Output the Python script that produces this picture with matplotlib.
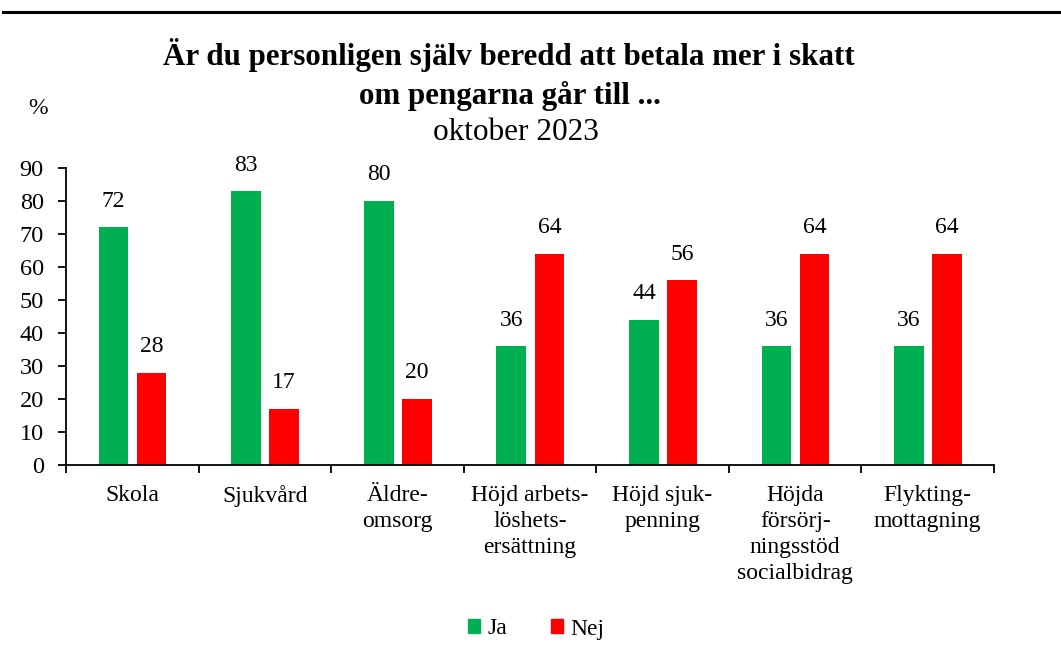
import matplotlib
matplotlib.use("Agg")
import matplotlib.pyplot as plt
import numpy as np
from matplotlib.patches import Patch
from matplotlib.lines import Line2D

categories = ["Skola", "Sjukvård", "Äldre-\nomsorg", "Höjd arbets-\nlöshets-\nersättning",
              "Höjd sjuk-\npenning", "Höjda\nförsörj-\nningsstöd\nsocialbidrag", "Flykting-\nmottagning"]
ja = [72, 83, 80, 36, 44, 36, 36]
nej = [28, 17, 20, 64, 56, 64, 64]
yticks = [0, 10, 20, 30, 40, 50, 60, 70, 80, 90]

plt.rcParams['font.family'] = ['Liberation Serif', 'DejaVu Serif']
GREEN = '#00B050'
RED = '#FF0000'
FS = 17

fig = plt.figure(figsize=(10.61, 6.60), dpi=100)
ax = fig.add_axes([66/1061, 1-465/660, (994-66)/1061, (465-168)/660])

x = np.arange(len(categories))
w = 0.224
off_ja, off_nej = -0.141, 0.146
ax.bar(x + off_ja, ja, width=w, color=GREEN, label='Ja')
ax.bar(x + off_nej, nej, width=w, color=RED, label='Nej')

for xi, v in zip(x, ja):
    ax.text(xi + off_ja, v + 7.9, f"{v}", ha='center', va='center', fontsize=FS)
for xi, v in zip(x, nej):
    ax.text(xi + off_nej, v + 7.9, f"{v}", ha='center', va='center', fontsize=FS)

ax.set_xlim(-0.5, len(categories) - 0.5)
ax.set_ylim(0, 90)
ax.set_yticks(yticks)
ax.set_yticklabels([str(t) for t in yticks], fontsize=FS + 0.5)
ax.set_xticks(np.arange(len(categories) + 1) - 0.5)
ax.set_xticklabels([])
ax.tick_params(axis='x', length=6, width=1.3, direction='out')
ax.tick_params(axis='y', length=6, width=1.3, direction='out', pad=10)
for xi, c in zip(x, categories):
    ax.text(xi, -6.2, c, ha='center', va='top', fontsize=FS, linespacing=1.3)

for s in ['top', 'right']:
    ax.spines[s].set_visible(False)
ax.spines['left'].set_linewidth(1.3)
ax.spines['bottom'].set_linewidth(1.3)

fig.text(509/1061, 1-55/660, "Är du personligen själv beredd att betala mer i skatt",
         ha='center', va='center', fontsize=22.3, fontweight='bold')
fig.text(510/1061, 1-96/660, "om pengarna går till ...",
         ha='center', va='center', fontsize=22.3, fontweight='bold')
fig.text(516/1061, 1-133/660, "oktober 2023", ha='center', va='center', fontsize=22.5)
fig.text(38/1061, 1-108/660, "%", ha='center', va='center', fontsize=FS)

fig.add_artist(Line2D([3/1061, 1.0], [1-12/660, 1-12/660], color='black', lw=2.2))

handles = [Patch(color=GREEN, label='Ja'), Patch(color=RED, label='Nej')]
fig.legend(handles=handles, loc='center', bbox_to_anchor=(536/1061, 1-629/660), ncol=2,
           frameon=False, fontsize=FS, handlelength=0.52, handleheight=0.52,
           handletextpad=0.3, columnspacing=1.85, borderpad=0)

fig.savefig("out.png", dpi=100)
